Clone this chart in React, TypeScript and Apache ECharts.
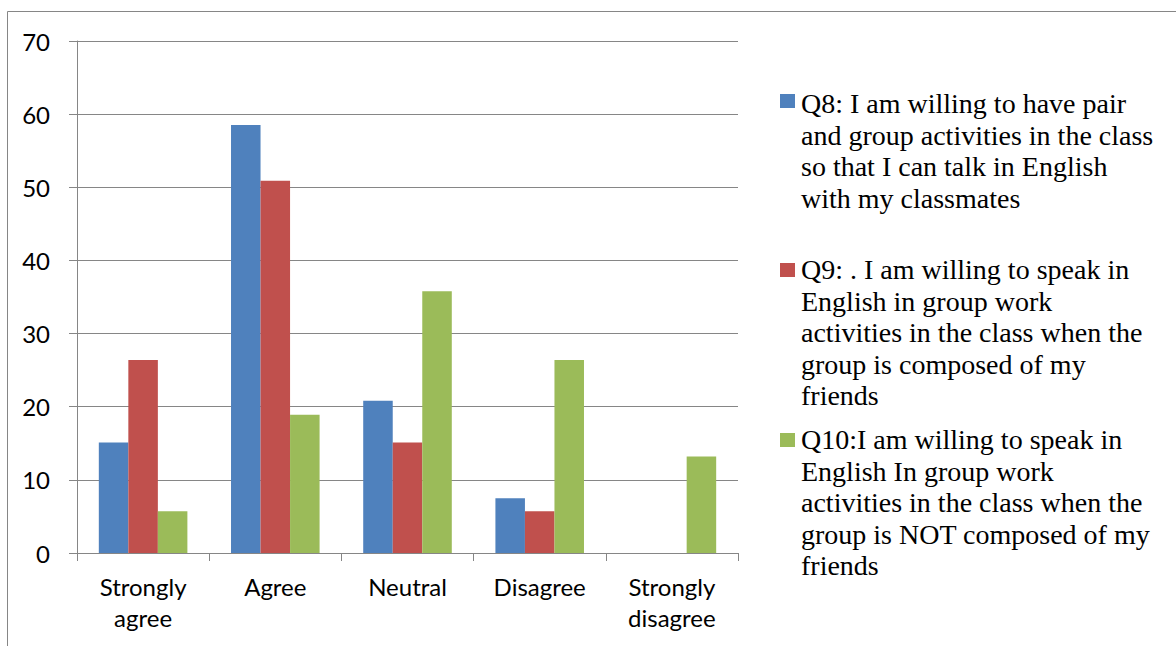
import React, { useEffect, useRef } from "react";
import * as echarts from "echarts";

const categories = ["Strongly\nagree", "Agree", "Neutral", "Disagree", "Strongly\ndisagree"];
const q8Values = [15.1, 58.5, 20.8, 7.5, 0];
const q9Values = [26.4, 50.9, 15.1, 5.7, 0];
const q10Values = [5.7, 18.9, 35.8, 26.4, 13.2];
const seriesNames = ["Q8", "Q9", "Q10"];
const legendTexts = [
  "Q8: I am willing to have pair\nand group activities in the class\nso that I can talk in English\nwith my classmates",
  "Q9: . I am willing to speak in\nEnglish in group work\nactivities in the class when the\ngroup is composed of my\nfriends",
  "Q10:I am willing to speak in\nEnglish In group work\nactivities in the class when the\ngroup is NOT composed of my\nfriends",
];
const colors = ["#4F81BD", "#C0504D", "#9BBB59"];
const legendTops = [88, 254, 424];
const markerTops = [94, 263, 433];

export default function App() {
  const ref = useRef<HTMLDivElement>(null);
  useEffect(() => {
    const chart = echarts.init(ref.current!, null, { renderer: "svg" });
    const gray = "#868686";
    const graphic: any[] = [
      {
        type: "rect",
        shape: { x: 7.5, y: 11.5, width: 1400, height: 900 },
        style: { fill: "none", stroke: gray, lineWidth: 1 },
        silent: true,
      },
    ];
    legendTexts.forEach((t, i) => {
      graphic.push({
        type: "rect",
        shape: { x: 780, y: markerTops[i], width: 15, height: 14 },
        style: { fill: colors[i] },
      });
      graphic.push({
        type: "text",
        x: 801,
        y: legendTops[i],
        style: {
          text: t,
          font: '28px "Liberation Serif", "Times New Roman", serif',
          lineHeight: 31.5,
          fill: "#000",
          verticalAlign: "top",
          align: "left",
        },
      });
    });
    const mk = (name: string, data: number[], color: string) => ({
      name,
      type: "bar",
      data,
      barGap: "0%",
      barCategoryGap: "33%",
      itemStyle: { color },
    });
    chart.setOption({
      animation: false,
      backgroundColor: "#fff",
      grid: { left: 77, right: 438, top: 41, bottom: 93 },
      xAxis: {
        type: "category",
        data: categories,
        axisLine: { show: true, lineStyle: { color: gray, width: 1 } },
        axisTick: { show: true, length: 8, alignWithLabel: false, lineStyle: { color: gray } },
        axisLabel: {
          color: "#000",
          fontFamily: "Lato",
          fontSize: 24,
          lineHeight: 31,
          margin: 18,
          interval: 0,
        },
      },
      yAxis: {
        type: "value",
        min: 0,
        max: 70,
        interval: 10,
        axisLine: { show: true, lineStyle: { color: gray, width: 1 } },
        axisTick: { show: true, length: 8, lineStyle: { color: gray } },
        splitLine: { show: true, lineStyle: { color: gray, width: 1 } },
        axisLabel: { color: "#000", fontFamily: "Lato", fontSize: 24, margin: 27 },
      },
      series: [
        mk(seriesNames[0], q8Values, colors[0]),
        mk(seriesNames[1], q9Values, colors[1]),
        mk(seriesNames[2], q10Values, colors[2]),
      ],
      graphic,
    });
    return () => chart.dispose();
  }, []);
  return (
    <div
      ref={ref}
      style={{ position: "fixed", left: 0, top: 0, width: 1176, height: 646 }}
    />
  );
}
